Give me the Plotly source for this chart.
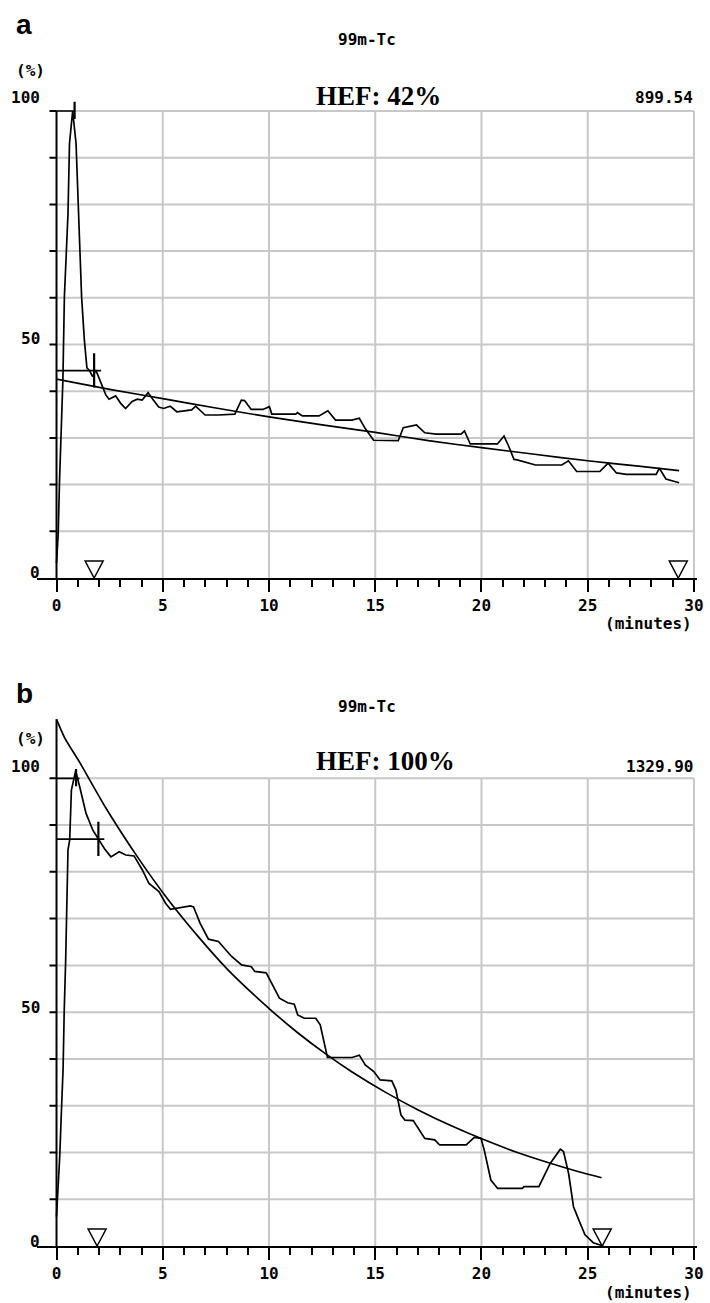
import plotly.graph_objects as go

W, H = 710, 1303

# ---------------- data ----------------
# panel a : time-activity curve (minutes, %)
a_t = [0.0, 0.08, 0.14, 0.22, 0.30, 0.37, 0.54, 0.61, 0.76, 0.92, 1.00, 1.07, 1.18, 1.31, 1.43,
       1.54, 1.70, 1.85, 2.15, 2.32, 2.47, 2.78, 3.02, 3.25, 3.56, 3.80, 4.03, 4.31, 4.53, 4.81,
       5.04, 5.35, 5.66, 6.05, 6.36, 6.55, 6.99, 7.61, 8.39, 8.70, 8.85, 9.16, 9.71, 10.02, 10.13,
       11.26, 11.34, 11.57, 12.35, 12.77, 13.13, 13.90, 14.25, 14.53, 14.92, 16.08, 16.32, 16.94,
       17.33, 17.87, 19.04, 19.20, 19.47, 20.75, 21.06, 21.29, 21.53, 21.68, 22.54, 23.78, 24.09,
       24.48, 25.57, 25.96, 26.35, 26.82, 28.22, 28.37, 28.68, 29.30]
a_v = [3.2, 9.6, 20.6, 29.6, 42.4, 60.2, 78.0, 93.0, 100.0, 93.0, 83.0, 72.4, 60.2, 51.0, 45.0,
       44.5, 43.1, 44.5, 41.0, 39.2, 38.3, 39.0, 37.4, 36.3, 37.8, 38.3, 38.1, 39.7, 38.3, 36.6,
       36.3, 36.8, 35.6, 35.8, 36.0, 36.8, 34.9, 34.9, 35.1, 38.1, 38.0, 36.1, 36.1, 36.7, 35.1,
       35.1, 35.4, 34.7, 34.7, 35.8, 33.8, 33.8, 34.2, 32.0, 29.5, 29.4, 32.2, 32.8,
       31.1, 30.8, 30.8, 31.5, 28.7, 28.7, 30.4, 28.1, 25.4, 25.3, 24.2, 24.2, 25.1,
       22.8, 22.8, 24.6, 22.5, 22.2, 22.2, 23.5, 21.2, 20.4]
# panel a : fitted clearance curve
fa_t = [0.0, 2.5, 5.0, 7.5, 10.0, 12.5, 15.0, 17.5, 20.0, 22.5, 25.0, 27.5, 29.3]
fa_v = [42.6, 40.4, 38.4, 36.4, 34.5, 32.8, 31.2, 29.4, 27.9, 26.5, 25.1, 23.9, 23.0]
# panel a : peak / reference markers
a_peak_t, a_peak_v = 0.85, 100.0
a_ref_t, a_ref_v, a_ref_end = 1.77, 44.4, 2.10
a_tri = [1.77, 29.26]

# panel b : time-activity curve
b_t = [0.0, 0.08, 0.15, 0.23, 0.31, 0.36, 0.43, 0.54, 0.62, 0.70, 0.90, 1.09, 1.39, 1.71, 1.97,
       2.25, 2.56, 2.95, 3.26, 3.65, 4.04, 4.35, 4.82, 5.13, 5.36, 5.83, 6.30, 6.45, 6.76,
       7.15, 7.62, 8.24, 8.71, 9.17, 9.33, 9.87, 10.49, 10.88, 11.19, 11.35, 11.66, 12.20, 12.41,
       12.75, 13.91, 14.25, 14.53, 14.93, 15.23, 15.78, 15.97, 16.21, 16.40, 16.79, 17.33, 17.80,
       18.03, 19.28, 19.66, 19.98, 20.13, 20.44, 20.76, 21.92, 22.00, 22.70, 23.24, 23.71, 23.86,
       24.10, 24.33, 24.64, 24.87, 25.26, 25.73]
b_v = [6.3, 12.0, 19.0, 28.7, 38.0, 49.8, 61.0, 84.7, 86.8, 97.5, 101.6, 98.2, 92.5, 88.9, 87.0,
       85.0, 83.2, 84.3, 83.6, 83.4, 80.4, 77.5, 75.8, 73.3, 72.0, 72.4, 72.7, 72.5, 69.0,
       65.6, 65.1, 61.9, 60.1, 59.7, 58.7, 58.4, 53.0, 52.0, 51.7, 49.4, 48.7, 48.7, 47.3,
       40.3, 40.3, 40.8, 38.7, 37.3, 35.5, 35.3, 33.4, 28.0, 26.9, 26.8, 23.0, 22.7,
       21.6, 21.6, 23.2, 23.0, 20.5, 14.1, 12.3, 12.3, 12.7, 12.7, 17.7, 20.7, 20.2,
       15.5, 8.4, 4.9, 2.4, 0.7, 0.0]
fb_t = [0.0, 0.39, 1.09, 2.33, 3.81, 5.13, 6.68, 8.08, 10.1, 11.35, 12.75, 13.91, 15.47, 17.02,
        18.58, 20.13, 21.69, 23.24, 24.8, 25.65]
fb_v = [112.6, 108.6, 103.4, 93.6, 83.2, 74.8, 66.1, 59.0, 50.4, 45.6, 40.8, 37.2, 32.9, 29.1,
        25.7, 22.7, 20.0, 17.7, 15.6, 14.6]
b_peak_t, b_peak_v, b_peak_end = 0.92, 100.0, 1.08
b_ref_t, b_ref_v, b_ref_end = 1.97, 87.0, 2.25
b_tri = [1.91, 25.68]

x_ticks = [0, 5, 10, 15, 20, 25, 30]
y_grid = [10, 20, 30, 40, 50, 60, 70, 80, 90, 100]
y_labels = [0, 50, 100]

panels = [
    dict(name="a", isotope="99m-Tc", hef="HEF: 42%", counts="899.54",
         t=a_t, v=a_v, ft=fa_t, fv=fa_v,
         peak=(a_peak_t, a_peak_v, a_peak_t), ref=(a_ref_t, a_ref_v, a_ref_end),
         tri=a_tri, axis_top=100.0),
    dict(name="b", isotope="99m-Tc", hef="HEF: 100%", counts="1329.90",
         t=b_t, v=b_v, ft=fb_t, fv=fb_v,
         peak=(b_peak_t, b_peak_v, b_peak_end), ref=(b_ref_t, b_ref_v, b_ref_end),
         tri=b_tri, axis_top=112.6),
]

# ---------------- layout geometry (pixels) ----------------
PX_MIN = 21.43        # pixels per minute
X0_PX = 57.0          # pixel of t = 0
XR = [-0.9, 30.15]
geo = [
    dict(y0_px=578.0, ppu=4.67, ytop=104.0, lab_shift=[6, 6, 13.5],
         letter_y=25, iso_y=39, pct_y=70, hef_y=96, cnt_y=97.5, min_y=624),
    dict(y0_px=1246.0, ppu=4.677, ytop=114.0, lab_shift=[5, 4.5, 12],
         letter_y=693, iso_y=706.5, pct_y=738.5, hef_y=761, cnt_y=766, min_y=1292.5),
]

def px(x):
    return x / W

def py(y):
    return 1 - y / H

xdom = [px(X0_PX + XR[0] * PX_MIN), px(X0_PX + XR[1] * PX_MIN)]

fig = go.Figure()
shapes = []
annos = []
BLACK = "black"
GRID = "#c8c8c8"
mono = dict(family="DejaVu Sans Mono", size=16, color=BLACK, weight="bold")

for i, (p, g) in enumerate(zip(panels, geo)):
    sfx = "" if i == 0 else str(i + 1)
    xr, yr = "x" + sfx, "y" + sfx
    ydom = [py(g["y0_px"]), py(g["y0_px"] - g["ytop"] * g["ppu"])]

    fig.update_layout(**{
        "xaxis" + sfx: dict(domain=xdom, range=XR, anchor=yr, showgrid=False, zeroline=False,
                            showline=True, linecolor=BLACK, linewidth=2,
                            tickmode="array", tickvals=x_ticks, ticks="outside",
                            ticklen=12, tickwidth=2, tickcolor=BLACK,
                            minor=dict(dtick=1, tick0=0, ticks="outside", ticklen=7,
                                       tickwidth=2, tickcolor=BLACK, showgrid=False),
                            tickfont=mono, fixedrange=True),
        "yaxis" + sfx: dict(domain=ydom, range=[0, g["ytop"]], anchor=xr, showgrid=False,
                            zeroline=False, showline=False, showticklabels=False,
                            ticks="", fixedrange=True),
    })

    # grid
    for gv in y_grid:
        shapes.append(dict(type="line", xref=xr, yref=yr, x0=0, x1=x_ticks[-1], y0=gv, y1=gv,
                           line=dict(color=GRID, width=2), layer="below"))
    for gx in x_ticks[1:]:
        shapes.append(dict(type="line", xref=xr, yref=yr, x0=gx, x1=gx, y0=0, y1=y_grid[-1],
                           line=dict(color=GRID, width=2), layer="below"))
    # y axis line and ticks
    shapes.append(dict(type="line", xref=xr, yref=yr, x0=0, x1=0, y0=0, y1=p["axis_top"],
                       line=dict(color=BLACK, width=2)))
    for gv in y_grid:
        shapes.append(dict(type="line", xref=xr, yref=yr, x0=-0.33, x1=0, y0=gv, y1=gv,
                           line=dict(color=BLACK, width=2)))
    # triangles
    for tt in p["tri"]:
        shapes.append(dict(type="path", xref=xr, yref=yr, xsizemode="pixel", ysizemode="pixel",
                           xanchor=tt, yanchor=0, path="M -9,17 L 9,17 L 0,0 Z",
                           line=dict(color=BLACK, width=1.5), fillcolor="rgba(0,0,0,0)"))

    # curves
    fig.add_trace(go.Scatter(x=p["t"], y=p["v"], mode="lines", xaxis=xr, yaxis=yr,
                             line=dict(color=BLACK, width=1.7), showlegend=False,
                             hoverinfo="skip"))
    fig.add_trace(go.Scatter(x=p["ft"], y=p["fv"], mode="lines", xaxis=xr, yaxis=yr,
                             line=dict(color=BLACK, width=1.7, shape="spline", smoothing=0.6),
                             showlegend=False, hoverinfo="skip"))
    # peak and reference markers
    pk_t, pk_v, pk_end = p["peak"]
    rf_t, rf_v, rf_end = p["ref"]
    fig.add_trace(go.Scatter(x=[0, pk_end], y=[pk_v, pk_v], mode="lines", xaxis=xr, yaxis=yr,
                             line=dict(color=BLACK, width=1.7), showlegend=False,
                             hoverinfo="skip"))
    fig.add_trace(go.Scatter(x=[pk_t, pk_t], y=[pk_v - 1.7, pk_v + 2.0], mode="lines",
                             xaxis=xr, yaxis=yr, line=dict(color=BLACK, width=2.2),
                             showlegend=False, hoverinfo="skip"))
    fig.add_trace(go.Scatter(x=[0, rf_end], y=[rf_v, rf_v], mode="lines", xaxis=xr, yaxis=yr,
                             line=dict(color=BLACK, width=1.7), showlegend=False,
                             hoverinfo="skip"))
    fig.add_trace(go.Scatter(x=[rf_t, rf_t], y=[rf_v - 3.6, rf_v + 3.7], mode="lines",
                             xaxis=xr, yaxis=yr, line=dict(color=BLACK, width=2.2),
                             showlegend=False, hoverinfo="skip"))

    # y tick labels
    for lv, sh in zip(y_labels, g["lab_shift"]):
        annos.append(dict(xref=xr, yref=yr, x=-0.68, y=lv, yshift=sh, text=str(lv),
                          showarrow=False, xanchor="right", yanchor="middle", font=mono))
    # texts
    annos.append(dict(xref="paper", yref="paper", x=px(14), y=py(g["letter_y"]), text=p["name"],
                      showarrow=False, xanchor="left", yanchor="middle",
                      font=dict(family="Liberation Sans", size=28, color=BLACK, weight="bold")))
    annos.append(dict(xref="paper", yref="paper", x=px(370), y=py(g["iso_y"]), text=p["isotope"],
                      showarrow=False, xanchor="center", yanchor="middle", font=mono))
    annos.append(dict(xref="paper", yref="paper", x=px(14), y=py(g["pct_y"]), text="(%)",
                      showarrow=False, xanchor="left", yanchor="middle", font=mono))
    annos.append(dict(xref="paper", yref="paper", x=px(317), y=py(g["hef_y"]), text=p["hef"],
                      showarrow=False, xanchor="left", yanchor="middle",
                      font=dict(family="Liberation Serif", size=27, color=BLACK, weight="bold")))
    annos.append(dict(xref="paper", yref="paper", x=px(701), y=py(g["cnt_y"]), text=p["counts"],
                      showarrow=False, xanchor="right", yanchor="middle", font=mono))
    annos.append(dict(xref="paper", yref="paper", x=px(700), y=py(g["min_y"]), text="(minutes)",
                      showarrow=False, xanchor="right", yanchor="middle", font=mono))

fig.update_layout(width=W, height=H, margin=dict(l=0, r=0, t=0, b=0),
                  paper_bgcolor="white", plot_bgcolor="white",
                  shapes=shapes, annotations=annos, showlegend=False)

fig.write_html("out.html", config={"displayModeBar": False})

# remove the default page margin so the figure sits at the window's top-left corner
with open("out.html", encoding="utf-8") as fh:
    html = fh.read()
html = html.replace("<head>", "<head><style>html,body{margin:0;padding:0;overflow:hidden}</style>", 1)
with open("out.html", "w", encoding="utf-8") as fh:
    fh.write(html)
